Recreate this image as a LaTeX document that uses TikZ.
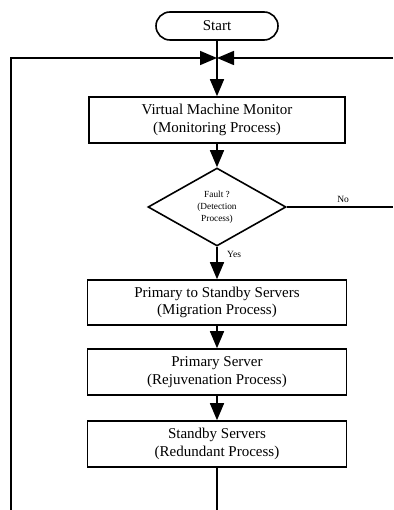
\documentclass[tikz,border=0pt]{standalone}
\usepackage{fontspec}
\setmainfont{Liberation Serif}
\usetikzlibrary{shapes.geometric,arrows.meta}
\begin{document}
\begin{tikzpicture}[x=1pt,y=-1pt,line width=1.6pt,
  box/.style={draw,rectangle,minimum width=259pt,minimum height=46pt,inner sep=0pt,align=center,font=\fontsize{15}{17.5}\selectfont},
  decision/.style={draw,diamond,minimum width=138pt,minimum height=78pt,inner sep=0pt,align=center,font=\fontsize{9.3}{12}\selectfont},
  arr/.style={-{Triangle[width=14pt,length=17pt]}},
  small/.style={font=\fontsize{9.5}{12}\selectfont}]
\useasboundingbox (0,0) rectangle (393,510);
\node[box,rounded corners=14pt,minimum width=122pt,minimum height=28pt] (start) at (217,26) {Start};
\node[box,minimum width=256pt] (vmm) at (217,120) {Virtual Machine Monitor\\(Monitoring Process)};
\node[decision] (dia) at (217,207) {Fault ?\\(Detection\\Process)};
\node[box,minimum height=45pt] (b1) at (217,302.5) {Primary to Standby Servers\\(Migration Process)};
\node[box] (b2) at (217,372) {Primary Server\\(Rejuvenation Process)};
\node[box] (b3) at (217,444) {Standby Servers\\(Redundant Process)};
\coordinate (J) at (217,58);
\coordinate (L) at (11,510);
\coordinate (R) at (393,58);
\coordinate (N) at (393,207);
\coordinate (B) at (217,510);
\draw (start) -- (J);
\draw[arr] (L) |- (J);
\draw[arr] (R) -- (J);
\draw[arr] (J) -- (vmm);
\draw[arr] (vmm) -- (dia);
\draw (dia.east) -- (N) node[small,above,pos=0.53] {No};
\draw[arr] (dia) -- (b1) node[small,right,pos=0.24,xshift=6pt] {Yes};
\draw[arr] (b1) -- (b2);
\draw[arr] (b2) -- (b3);
\draw (b3) -- (B);
\end{tikzpicture}
\end{document}
